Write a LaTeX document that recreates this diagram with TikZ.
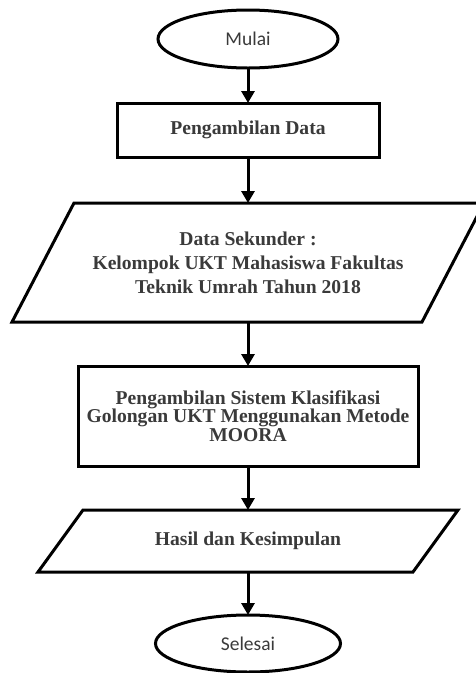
\documentclass[tikz,border=0pt]{standalone}
\usepackage{fontspec}
\setmainfont{Liberation Serif}
\newfontfamily\calfont{Carlito}
\usetikzlibrary{arrows.meta,shapes.geometric}
\definecolor{txt}{HTML}{3A3A3A}
\begin{document}
\begin{tikzpicture}[x=1pt,y=-1pt,
  term/.style={ellipse, draw, line width=3pt, inner sep=0pt, outer sep=0pt,
    font=\calfont\fontsize{19.5}{23}\selectfont, text=txt},
  box/.style={rectangle, draw, line width=3pt, inner sep=0pt, outer sep=0pt, align=center,
    font=\bfseries\fontsize{19.6}{24}\selectfont, text=txt},
  plain/.style={rectangle, draw=none, inner sep=0pt, outer sep=0pt, align=center,
    font=\bfseries\fontsize{19.6}{24}\selectfont, text=txt},
  shapeline/.style={line width=3pt, line join=miter},
  arr/.style={line width=3pt, -{Triangle[width=13pt,length=12pt]}}]
\useasboundingbox (0,0) rectangle (475,673);

\node[term, minimum width=180pt, minimum height=58pt] (start) at (248,39) {Mulai};
\node[box, minimum width=262pt, minimum height=54pt] (r1) at (248,130) {Pengambilan Data};
\node[plain, minimum width=410pt, minimum height=119pt] (p1) at (248,262.5)
  {Data Sekunder :\\Kelompok UKT Mahasiswa Fakultas\\Teknik Umrah Tahun 2018};
\draw[shapeline] ([xshift=31pt]p1.north west) -- ([xshift=31pt]p1.north east)
  -- ([xshift=-31pt]p1.south east) -- ([xshift=-31pt]p1.south west) -- cycle;
\node[box, minimum width=340pt, minimum height=100pt,
  font=\bfseries\fontsize{19.6}{18.5}\selectfont] (r2) at (248,416)
  {Pengambilan Sistem Klasifikasi\\Golongan UKT Menggunakan Metode\\MOORA};
\node[plain, minimum width=375pt, minimum height=62pt] (p2) at (248,541) {Hasil dan Kesimpulan};
\draw[shapeline] ([xshift=22.5pt]p2.north west) -- ([xshift=22.5pt]p2.north east)
  -- ([xshift=-22.5pt]p2.south east) -- ([xshift=-22.5pt]p2.south west) -- cycle;
\node[term, minimum width=185pt, minimum height=57pt] (stop) at (248,643.5) {Selesai};

\draw[arr] (start.south) -- (r1.north);
\draw[arr] (r1.south) -- (p1.north);
\draw[arr] (p1.south) -- (r2.north);
\draw[arr] (r2.south) -- (p2.north);
\draw[arr] (p2.south) -- (stop.north);
\end{tikzpicture}
\end{document}
